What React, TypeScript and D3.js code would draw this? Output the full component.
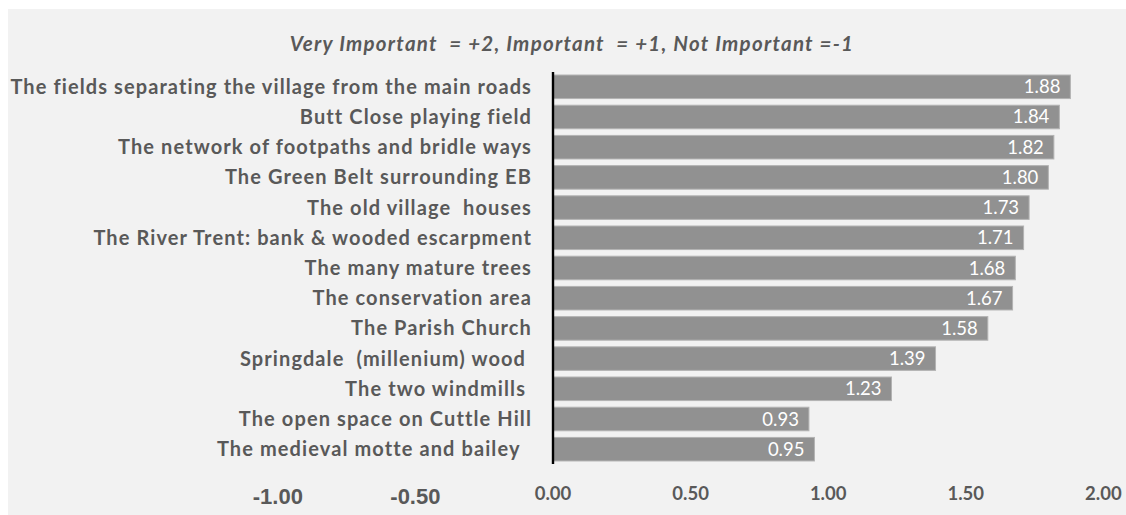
import React from "react";
import * as d3 from "d3";

const categories = [
  "The fields separating the village from the main roads",
  "Butt Close playing field",
  "The network of footpaths and bridle ways",
  "The Green Belt surrounding EB",
  "The old village  houses",
  "The River Trent: bank & wooded escarpment",
  "The many mature trees",
  "The conservation area",
  "The Parish Church",
  "Springdale  (millenium) wood ",
  "The two windmills ",
  "The open space on Cuttle Hill",
  "The medieval motte and bailey  ",
];
const values = [1.88, 1.84, 1.82, 1.8, 1.73, 1.71, 1.68, 1.67, 1.58, 1.39, 1.23, 0.93, 0.95];
const negTicks = [-1, -0.5];
const posTicks = [0, 0.5, 1, 1.5, 2];
const title = "Very Important  = +2, Important  = +1, Not Important =-1";

const W = 1126;
const H = 515;
const textColor = "#595959";
const barColor = "#919191";

export default function App() {
  const x = d3.scaleLinear().domain([0, 2]).range([553, 1103.4]);
  const y = d3.scaleBand<string>().domain(categories).range([72, 464]).paddingInner(0.22).paddingOuter(0.1);
  const bw = y.bandwidth();
  const fmt = (v: number) => d3.format(".2f")(v).replace("\u2212", "-");
  return (
    <svg width={W} height={H} style={{ position: "absolute", left: 0, top: 0, display: "block" }}>
      <rect x={8} y={9} width={W - 8} height={H - 9} fill="#f2f2f2" />
      <text x={572} y={51} textAnchor="middle" fill={textColor} fontFamily="Lato" fontWeight="bold" fontStyle="italic" fontSize={20.5} letterSpacing={1.25} style={{ whiteSpace: "pre" }}>
        {title}
      </text>
      {categories.map((c, i) => (
        <g key={c}>
          <rect x={x(0)} y={y(c)!} width={x(values[i]) - x(0)} height={bw} fill={barColor} stroke="#b3b3b3" strokeWidth={1} />
          <text x={x(values[i]) - 10} y={y(c)! + bw / 2 + 6.5} textAnchor="end" fill="#ffffff" fontFamily="Lato" fontSize={18.5}>
            {fmt(values[i])}
          </text>
          <text x={532} y={y(c)! + bw / 2 + 7} textAnchor="end" fill={textColor} fontFamily="Lato" fontWeight="bold" fontSize={20} letterSpacing={1.1} style={{ whiteSpace: "pre" }}>
            {c}
          </text>
        </g>
      ))}
      <line x1={x(0)} x2={x(0)} y1={72} y2={464} stroke="#000" strokeWidth={2.4} />
      {negTicks.map((t) => (
        <text key={t} x={x(t)} y={504} textAnchor="middle" fill={textColor} fontFamily="Liberation Sans" fontWeight="bold" fontSize={22}>
          {fmt(t)}
        </text>
      ))}
      {posTicks.map((t) => (
        <text key={t} x={x(t)} y={500} textAnchor="middle" fill={textColor} fontFamily="Lato" fontWeight="bold" fontSize={18.5}>
          {fmt(t)}
        </text>
      ))}
    </svg>
  );
}
